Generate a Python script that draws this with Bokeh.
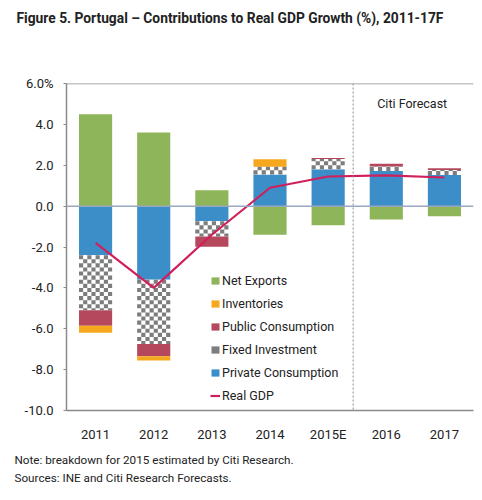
from bokeh.plotting import figure
from bokeh.models import (Label, Legend, LegendItem, Span, FixedTicker, ColumnDataSource, Title)
from bokeh.embed import file_html
from bokeh.resources import INLINE

years = ["2011", "2012", "2013", "2014", "2015E", "2016", "2017"]
private_consumption = [-2.4, -3.6, -0.74, 1.55, 1.8, 1.72, 1.52]
fixed_investment = [-2.7, -3.15, -0.75, 0.38, 0.5, 0.22, 0.25]
public_consumption = [-0.75, -0.6, -0.5, 0.0, 0.05, 0.13, 0.08]
inventories = [-0.35, -0.2, 0.0, 0.36, 0.0, 0.0, 0.0]
net_exports = [4.5, 3.6, 0.78, -1.4, -0.93, -0.65, -0.5]
real_gdp = [-1.8, -4.0, -1.4, 0.9, 1.45, 1.5, 1.4]

y_ticks = [-10, -8, -6, -4, -2, 0, 2, 4, 6]
y_tick_labels = ["-10.0", "-8.0", "-6.0", "-4.0", "-2.0", "0.0", "2.0", "4.0", "6.0%"]

series = [
    ("Private Consumption", private_consumption, "#3b8ec8"),
    ("Fixed Investment", fixed_investment, "white"),
    ("Public Consumption", public_consumption, "#b5485d"),
    ("Inventories", inventories, "#f5a81e"),
    ("Net Exports", net_exports, "#8fb55a"),
]

FONT = "Roboto"
TXT = "#222222"
BAR_W = 0.57

p = figure(x_range=years, y_range=(-10, 6), frame_width=407, frame_height=327,
           output_backend="svg", toolbar_location=None,
           min_border_left=66, min_border_right=7, min_border_top=83, min_border_bottom=0)
p.outline_line_color = None
p.xgrid.grid_line_color = None
p.ygrid.grid_line_color = None
p.background_fill_color = "white"
p.border_fill_color = "white"

pos = [0.0] * len(years)
neg = [0.0] * len(years)
renderers = {}
segments = {}
for name, vals, color in series:
    bottoms, tops = [], []
    for i, v in enumerate(vals):
        if v >= 0:
            bottoms.append(pos[i]); tops.append(pos[i] + v); pos[i] += v
        else:
            bottoms.append(neg[i]); tops.append(neg[i] + v); neg[i] += v
    segments[name] = (bottoms, tops)
    src = ColumnDataSource(dict(x=years, bottom=bottoms, top=tops))
    r = p.vbar(x="x", bottom="bottom", top="top", width=BAR_W, source=src,
               fill_color=color, line_color=None)
    renderers[name] = [r]

# checkerboard texture for the fixed-investment segments
ncols = 8
dx = BAR_W / ncols
dy = 0.2
cl, cr, cb, ct = [], [], [], []
fb, ft = segments["Fixed Investment"]
for i in range(len(years)):
    span_len = abs(ft[i] - fb[i])
    sign = 1 if ft[i] >= fb[i] else -1
    row = 0
    while row * dy < span_len - 1e-9:
        y0 = fb[i] + sign * row * dy
        y1 = fb[i] + sign * min((row + 1) * dy, span_len)
        for c in range(ncols):
            if (row + c) % 2 == 0:
                x0 = i + 0.5 - BAR_W / 2 + c * dx
                cl.append(x0); cr.append(x0 + dx)
                cb.append(min(y0, y1)); ct.append(max(y0, y1))
        row += 1
cells = p.quad(left=cl, right=cr, bottom=cb, top=ct, fill_color="#7d7d7d", line_color=None)
renderers["Fixed Investment"].append(cells)

zero = Span(location=0, dimension="width", line_color="#9aa7c0", line_width=1.5)
p.add_layout(zero)

gdp = p.line(x=years, y=real_gdp, line_color="#d01f5b", line_width=2.2)
renderers["Real GDP"] = [gdp]

top_line = Span(location=6, dimension="width", line_color="#8a8a8a", line_width=1.5)
p.add_layout(top_line)

fc = Span(location=4.93, dimension="height", line_color="#8a8a8a", line_width=1,
          line_dash="2 2")
p.add_layout(fc)

p.add_layout(Label(x=345.7, y=307, x_units="screen", y_units="screen", text="Citi Forecast",
                   text_font=FONT, text_font_size="12.5px", text_color=TXT,
                   text_align="center", text_baseline="middle"))

p.yaxis.ticker = FixedTicker(ticks=y_ticks)
p.yaxis.major_label_overrides = dict(zip(y_ticks, y_tick_labels))
p.yaxis.major_tick_out = 3
p.yaxis.major_tick_in = 0
p.yaxis.minor_tick_out = 0
p.yaxis.minor_tick_in = 0
p.yaxis.major_label_standoff = 10
p.xaxis.major_tick_out = 0
p.xaxis.major_tick_in = 0
p.xaxis.major_label_standoff = 16
for ax in (p.xaxis, p.yaxis):
    ax.axis_line_color = "#8a8a8a"
    ax.axis_line_width = 1.5
    ax.major_tick_line_color = "#8a8a8a"
    ax.major_label_text_font = FONT
    ax.major_label_text_font_size = "13px"
    ax.major_label_text_color = TXT

order = ["Net Exports", "Inventories", "Public Consumption", "Fixed Investment",
         "Private Consumption", "Real GDP"]
legend = Legend(items=[LegendItem(label=n, renderers=renderers[n]) for n in order],
                location=(144, 3), padding=0, spacing=0, margin=0,
                label_height=23, glyph_height=9, glyph_width=10, label_standoff=2,
                label_text_font=FONT, label_text_font_size="12.5px", label_text_color=TXT,
                border_line_color=None, background_fill_alpha=0)
p.add_layout(legend, "center")

# spacer (closest to the frame), then the title above it
spacer = Title(text=" ", text_font_size="10px", standoff=36)
p.add_layout(spacer, "above")
title = Title(text="Figure 5. Portugal \u2013 Contributions to Real GDP Growth (%), 2011-17F",
              align="left", vertical_align="top", offset=-50, standoff=13,
              text_font=FONT, text_font_size="13.8px", text_font_style="bold", text_color=TXT)
p.add_layout(title, "above")
notes = Title(text="Note: breakdown for 2015 estimated by Citi Research.\nSources: INE and Citi Research Forecasts.",
              align="left", vertical_align="bottom", offset=-52, standoff=12,
              text_font=FONT, text_font_size="11.7px", text_font_style="normal",
              text_line_height=1.33, text_color=TXT)
p.add_layout(notes, "below")

open("out.html", "w").write(file_html(p, INLINE))
